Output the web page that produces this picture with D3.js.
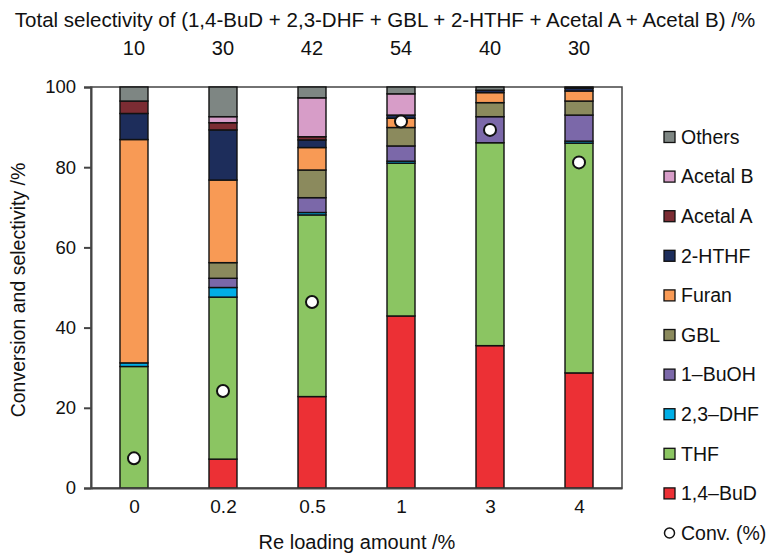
<!DOCTYPE html>
<html>
<head>
<meta charset="utf-8">
<script src="https://cdn.jsdelivr.net/npm/d3@7"></script>
<style>
  html, body { margin: 0; padding: 0; background: #fff; }
  svg { display: block; font-family: "Liberation Sans", Arial, sans-serif; }
</style>
</head>
<body>
<svg id="chart" width="766" height="554"></svg>
<script>
// ---- data ----
const categories = ["0", "0.2", "0.5", "1", "3", "4"];
const totalSelectivity = ["10", "30", "42", "54", "40", "30"];
const seriesNames = ["1,4\u2013BuD", "THF", "2,3\u2013DHF", "1\u2013BuOH", "GBL", "Furan", "2-HTHF", "Acetal A", "Acetal B", "Others"];
const seriesColors = ["#ec3035", "#8bc562", "#00aee6", "#7b68a9", "#8b8a5d", "#f89a55", "#1d2d5b", "#7b2c33", "#d79dc8", "#7e8683"];
const buD     = [0,    7.2,  22.8, 42.9, 35.5, 28.7];
const thf     = [30.3, 40.4, 45.3, 38.1, 50.6, 57.3];
const dhf     = [0.9,  2.4,  0.6,  0.5,  0,    0.5];
const buOH    = [0,    2.3,  3.7,  3.8,  6.5,  6.5];
const gbl     = [0,    3.9,  6.9,  4.6,  3.5,  3.5];
const furan   = [55.7, 20.6, 5.6,  2.3,  2.5,  2.5];
const hthf    = [6.5,  12.5, 1.9,  0.8,  0.6,  0.7];
const acetalA = [3.1,  1.8,  0.8,  0,    0,    0];
const acetalB = [0,    1.5,  9.7,  5.3,  0,    0];
const others  = [3.5,  7.4,  2.7,  1.7,  0.8,  0.3];
const conversion = [7.4, 24.2, 46.4, 91.4, 89.3, 81.2];
const yTicks = [0, 20, 40, 60, 80, 100];

const seriesValues = [buD, thf, dhf, buOH, gbl, furan, hthf, acetalA, acetalB, others];

// ---- layout ----
const svg = d3.select("#chart");
const L = 91, R = 622, T = 87, B = 488;
const barW = 28;
const FONT = "Liberation Sans, Arial, sans-serif";

const x = d3.scalePoint().domain(categories).range([L, R]).padding(0.483);
const y = d3.scaleLinear().domain([0, 100]).range([B, T]);
const color = d3.scaleOrdinal().domain(seriesNames).range(seriesColors);

const rows = categories.map((c, i) => {
  const o = { cat: c };
  seriesNames.forEach((s, k) => { o[s] = seriesValues[k][i]; });
  return o;
});
const stacked = d3.stack().keys(seriesNames)(rows);

// frame
svg.append("rect")
  .attr("x", L).attr("y", T).attr("width", R - L).attr("height", B - T)
  .attr("fill", "none").attr("stroke", "#444").attr("stroke-width", 1.5);

// bars
const g = svg.append("g");
stacked.forEach(layer => {
  g.selectAll(null).data(layer.filter(d => d[1] - d[0] > 0)).enter().append("rect")
    .attr("x", d => x(d.data.cat) - barW / 2)
    .attr("y", d => y(d[1]))
    .attr("width", barW)
    .attr("height", d => y(d[0]) - y(d[1]))
    .attr("fill", color(layer.key))
    .attr("stroke", "#111")
    .attr("stroke-width", 1.4);
});

// conversion markers
svg.append("g").selectAll("circle").data(conversion).enter().append("circle")
  .attr("cx", (d, i) => x(categories[i]))
  .attr("cy", d => y(d))
  .attr("r", 6)
  .attr("fill", "#fff").attr("stroke", "#111").attr("stroke-width", 2);

// axes
const yAxis = d3.axisLeft(y).tickValues(yTicks).tickSize(7).tickPadding(8);
const ya = svg.append("g").attr("transform", `translate(${L},0)`).call(yAxis);
ya.select(".domain").attr("stroke", "#444").attr("stroke-width", 2);
ya.selectAll(".tick line").attr("stroke", "#444").attr("stroke-width", 2);
ya.selectAll("text").attr("font-size", 18.5).attr("fill", "#111").attr("font-family", FONT);

const xAxis = d3.axisBottom(x).tickSize(0).tickPadding(12);
const xa = svg.append("g").attr("transform", `translate(0,${B})`).call(xAxis);
xa.select(".domain").attr("stroke", "#444").attr("stroke-width", 2);
xa.selectAll("text").attr("font-size", 19).attr("fill", "#111").attr("font-family", FONT);

// axis titles
svg.append("text")
  .attr("x", 357).attr("y", 549).attr("text-anchor", "middle")
  .attr("font-size", 20).attr("fill", "#111")
  .text("Re loading amount /%");
svg.append("text")
  .attr("transform", "translate(25,290) rotate(-90)")
  .attr("text-anchor", "middle")
  .attr("font-size", 19.5).attr("fill", "#111")
  .text("Conversion and selectivity /%");

// top title & totals
svg.append("text")
  .attr("x", 385).attr("y", 27).attr("text-anchor", "middle")
  .attr("font-size", 20.5).attr("fill", "#111")
  .text("Total selectivity of (1,4-BuD + 2,3-DHF + GBL + 2-HTHF + Acetal A + Acetal B) /%");
svg.append("g").selectAll("text").data(totalSelectivity).enter().append("text")
  .attr("x", (d, i) => x(categories[i]))
  .attr("y", 55).attr("text-anchor", "middle")
  .attr("font-size", 20).attr("fill", "#111")
  .text(d => d);

// legend (top to bottom: reverse stack order, then Conv.)
const legendItems = seriesNames.slice().reverse();
const lg = svg.append("g");
const rowY = i => 137 + i * 39.6;
legendItems.forEach((s, i) => {
  lg.append("rect")
    .attr("x", 664).attr("y", rowY(i) - 5.5).attr("width", 11).attr("height", 11)
    .attr("fill", color(s)).attr("stroke", "#111").attr("stroke-width", 1.3);
  lg.append("text")
    .attr("x", 681).attr("y", rowY(i)).attr("dy", "0.35em")
    .attr("font-size", 19.5).attr("fill", "#111").text(s);
});
const ci = legendItems.length;
lg.append("circle")
  .attr("cx", 669.5).attr("cy", rowY(ci)).attr("r", 5)
  .attr("fill", "#fff").attr("stroke", "#111").attr("stroke-width", 1.5);
lg.append("text")
  .attr("x", 681).attr("y", rowY(ci)).attr("dy", "0.35em")
  .attr("font-size", 19.5).attr("fill", "#111").text("Conv. (%)");
</script>
</body>
</html>
